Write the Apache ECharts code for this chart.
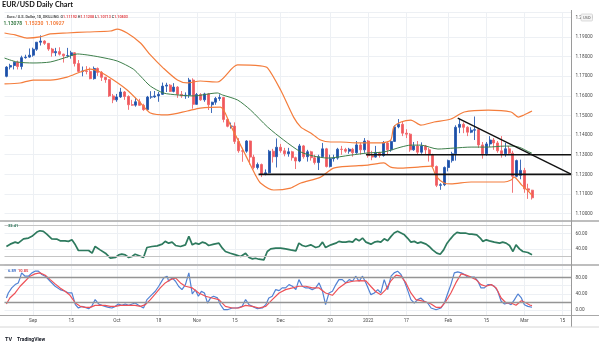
<!DOCTYPE html>
<html><head><meta charset="utf-8">
<script src="https://cdn.jsdelivr.net/npm/echarts@6/dist/echarts.min.js"></script>
<style>html,body{margin:0;padding:0;background:#fff}#c{width:599px;height:342px}</style>
</head><body><div id="c"></div>
<script>
// ---------- categories ----------
const dates = [
'2021-08-23','2021-08-24','2021-08-25','2021-08-26','2021-08-27','2021-08-30','2021-08-31',
'2021-09-01','2021-09-02','2021-09-03','2021-09-06','2021-09-07','2021-09-08','2021-09-09','2021-09-10','2021-09-13','2021-09-14','2021-09-15','2021-09-16','2021-09-17','2021-09-20','2021-09-21','2021-09-22','2021-09-23','2021-09-24','2021-09-27','2021-09-28','2021-09-29','2021-09-30',
'2021-10-01','2021-10-04','2021-10-05','2021-10-06','2021-10-07','2021-10-08','2021-10-11','2021-10-12','2021-10-13','2021-10-14','2021-10-15','2021-10-18','2021-10-19','2021-10-20','2021-10-21','2021-10-22','2021-10-25','2021-10-26','2021-10-27','2021-10-28','2021-10-29',
'2021-11-01','2021-11-02','2021-11-03','2021-11-04','2021-11-05','2021-11-08','2021-11-09','2021-11-10','2021-11-11','2021-11-12','2021-11-15','2021-11-16','2021-11-17','2021-11-18','2021-11-19','2021-11-22','2021-11-23','2021-11-24','2021-11-25','2021-11-26','2021-11-29','2021-11-30',
'2021-12-01','2021-12-02','2021-12-03','2021-12-06','2021-12-07','2021-12-08','2021-12-09','2021-12-10','2021-12-13','2021-12-14','2021-12-15','2021-12-16','2021-12-17','2021-12-20','2021-12-21','2021-12-22','2021-12-23','2021-12-24','2021-12-27','2021-12-28','2021-12-29','2021-12-30','2021-12-31',
'2022-01-03','2022-01-04','2022-01-05','2022-01-06','2022-01-07','2022-01-10','2022-01-11','2022-01-12','2022-01-13','2022-01-14','2022-01-17','2022-01-18','2022-01-19','2022-01-20','2022-01-21','2022-01-24','2022-01-25','2022-01-26','2022-01-27','2022-01-28','2022-01-31',
'2022-02-01','2022-02-02','2022-02-03','2022-02-04','2022-02-07','2022-02-08','2022-02-09','2022-02-10','2022-02-11','2022-02-14','2022-02-15','2022-02-16','2022-02-17','2022-02-18','2022-02-21','2022-02-22','2022-02-23','2022-02-24','2022-02-25','2022-02-28',
'2022-03-01','2022-03-02','2022-03-03','2022-03-04','2022-03-07','2022-03-08','2022-03-09','2022-03-10','2022-03-11','2022-03-14','2022-03-15','2022-03-16','2022-03-17'
];
const tickDates  = ['2021-09-01','2021-09-15','2021-10-01','2021-10-18','2021-11-01','2021-11-15','2021-12-01','2021-12-20','2022-01-03','2022-01-17','2022-02-01','2022-02-15','2022-03-01','2022-03-15'];
const tickLabels = ['Sep','15','Oct','18','Nov','15','Dec','20','2022','17','Feb','15','Mar','15'];

// ---------- OHLC ----------
const opens = [1.1700,1.1747,1.1755,1.1772,1.1750,1.1795,1.1798,1.1808,1.1838,1.1874,
1.1880,1.1868,1.1839,1.1820,1.1826,1.1813,1.1805,1.1806,1.1820,1.1765,
1.1725,1.1727,1.1725,1.1688,1.1740,1.1720,1.1695,1.1683,1.1600,1.1580,
1.1595,1.1620,1.1597,1.1555,1.1553,1.1570,1.1552,1.1530,1.1594,1.1595,
1.1600,1.1608,1.1650,1.1655,1.1623,1.1645,1.1608,1.1600,1.1604,1.1681,
1.1557,1.1607,1.1580,1.1610,1.1555,1.1568,1.1587,1.1592,1.1480,1.1445,
1.1446,1.1368,1.1320,1.1318,1.1370,1.1288,1.1235,1.1250,1.1200,1.1208,
1.1318,1.1290,1.1338,1.1320,1.1305,1.1315,1.1285,1.1268,1.1345,1.1290,
1.1315,1.1285,1.1260,1.1290,1.1330,1.1240,1.1280,1.1283,1.1328,1.1327,
1.1318,1.1328,1.1310,1.1350,1.1325,1.1370,1.1295,1.1288,1.1312,1.1296,
1.1360,1.1325,1.1368,1.1442,1.1455,1.1410,1.1405,1.1325,1.1345,1.1313,
1.1345,1.1325,1.1300,1.1240,1.1144,1.1147,1.1235,1.1270,1.1305,1.1440,
1.1455,1.1440,1.1415,1.1425,1.1428,1.1350,1.1305,1.1355,1.1375,1.1360,
1.1320,1.1305,1.1330,1.1308,1.1190,1.1195,1.1220,1.1126,1.11192];
const highs = [1.1752,1.1764,1.1775,1.1780,1.1805,1.1810,1.1842,1.1846,1.1875,1.1909,
1.1884,1.1870,1.1845,1.1845,1.1848,1.1815,1.1845,1.1830,1.1823,1.1783,
1.1750,1.1752,1.1745,1.1750,1.1745,1.1727,1.1697,1.1686,1.1610,1.1610,
1.1641,1.1625,1.1603,1.1580,1.1590,1.1585,1.1560,1.1600,1.1624,1.1625,
1.1620,1.1668,1.1667,1.1660,1.1665,1.1650,1.1625,1.1618,1.1692,1.1690,
1.1615,1.1614,1.1616,1.1615,1.1570,1.1595,1.1608,1.1595,1.1485,1.1464,
1.1465,1.1385,1.1335,1.1374,1.1372,1.1300,1.1260,1.1255,1.1225,1.1325,
1.1330,1.1383,1.1355,1.1335,1.1335,1.1320,1.1290,1.1355,1.1350,1.1325,
1.1320,1.1300,1.1300,1.1360,1.1335,1.1300,1.1300,1.1335,1.1345,1.1335,
1.1335,1.1335,1.1370,1.1360,1.1385,1.1375,1.1320,1.1345,1.1315,1.1370,
1.1365,1.1375,1.1450,1.1482,1.1470,1.1430,1.1410,1.1365,1.1370,1.1363,
1.1350,1.1335,1.1305,1.1245,1.1155,1.1240,1.1275,1.1315,1.1450,1.1483,
1.1465,1.1445,1.1440,1.1495,1.1435,1.1365,1.1365,1.1395,1.1385,1.1370,
1.1395,1.1360,1.1345,1.1320,1.1275,1.1275,1.1233,1.1152,1.11208];
const lows = [1.1695,1.1735,1.1735,1.1735,1.1735,1.1790,1.1795,1.1800,1.1830,1.1857,
1.1860,1.1830,1.1800,1.1803,1.1806,1.1770,1.1796,1.1790,1.1750,1.1720,
1.1700,1.1710,1.1685,1.1683,1.1702,1.1676,1.1667,1.1595,1.1563,1.1570,
1.1590,1.1580,1.1529,1.1550,1.1545,1.1550,1.1524,1.1525,1.1585,1.1590,
1.1570,1.1605,1.1620,1.1620,1.1618,1.1590,1.1590,1.1585,1.1590,1.1535,
1.1555,1.1575,1.1570,1.1528,1.1513,1.1555,1.1575,1.1465,1.1440,1.1433,
1.1355,1.1310,1.1264,1.1310,1.1250,1.1226,1.1225,1.1186,1.1195,1.1205,
1.1260,1.1235,1.1310,1.1292,1.1290,1.1270,1.1227,1.1262,1.1280,1.1265,
1.1270,1.1250,1.1222,1.1285,1.1235,1.1235,1.1265,1.1275,1.1300,1.1310,
1.1305,1.1290,1.1305,1.1300,1.1310,1.1285,1.1272,1.1285,1.1285,1.1290,
1.1300,1.1315,1.1365,1.1435,1.1395,1.1385,1.1315,1.1320,1.1300,1.1305,
1.1300,1.1265,1.1235,1.1135,1.1121,1.1140,1.1215,1.1260,1.1270,1.1410,
1.1410,1.1395,1.1410,1.1375,1.1335,1.1280,1.1295,1.1340,1.1325,1.1310,
1.1285,1.1290,1.1300,1.1106,1.1185,1.1175,1.1106,1.1075,1.10713];
const closes = [1.1747,1.1755,1.1772,1.1750,1.1795,1.1798,1.1808,1.1838,1.1874,1.1880,
1.1868,1.1839,1.1820,1.1826,1.1813,1.1805,1.1806,1.1820,1.1765,1.1725,
1.1727,1.1725,1.1688,1.1740,1.1720,1.1695,1.1683,1.1600,1.1580,1.1595,
1.1620,1.1597,1.1555,1.1553,1.1570,1.1552,1.1530,1.1594,1.1595,1.1600,
1.1608,1.1650,1.1655,1.1623,1.1645,1.1608,1.1600,1.1604,1.1681,1.1557,
1.1607,1.1580,1.1610,1.1555,1.1568,1.1587,1.1592,1.1480,1.1445,1.1446,
1.1368,1.1320,1.1318,1.1370,1.1288,1.1235,1.1250,1.1200,1.1208,1.1318,
1.1290,1.1338,1.1320,1.1305,1.1315,1.1285,1.1268,1.1345,1.1290,1.1315,
1.1285,1.1260,1.1290,1.1330,1.1240,1.1280,1.1283,1.1328,1.1327,1.1318,
1.1328,1.1310,1.1350,1.1325,1.1370,1.1295,1.1288,1.1312,1.1296,1.1360,
1.1325,1.1368,1.1442,1.1455,1.1410,1.1405,1.1325,1.1345,1.1313,1.1345,
1.1325,1.1300,1.1240,1.1144,1.1147,1.1235,1.1270,1.1305,1.1440,1.1455,
1.1440,1.1415,1.1425,1.1428,1.1350,1.1305,1.1355,1.1375,1.1360,1.1320,
1.1305,1.1330,1.1308,1.1190,1.1270,1.1220,1.1126,1.11192,1.10803];

// ---------- Bollinger bands [bar position, price] ----------
const bbUpper = [[-0.5,1.1921],[2.3,1.1911],[5.4,1.1895],[8.8,1.1901],[11.5,1.1916],[15.9,1.1921],[21.2,1.1926],[27.3,1.1931],[29.1,1.1941],[31.7,1.1921],[35.2,1.1870],[37.8,1.1809],[41.2,1.1742],[44.9,1.1681],[47.5,1.1666],[50.9,1.1676],[55.4,1.1671],[60.7,1.1758],[66.7,1.1753],[68.6,1.1742],[72.0,1.1630],[75.4,1.1492],[77.3,1.1441],[79.9,1.1411],[82.5,1.1375],[85.1,1.1365],[87.8,1.1365],[92.3,1.1360],[94.9,1.1360],[98.3,1.1360],[100.9,1.1375],[101.7,1.1441],[103.6,1.1467],[106.2,1.1477],[108.8,1.1451],[112.3,1.1467],[116.7,1.1482],[120.2,1.1518],[126.5,1.1528],[132.5,1.1518],[134.4,1.1492],[135.9,1.1503],[138,1.15230]];
const bbLower = [[-0.5,1.1661],[3.6,1.1666],[7.0,1.1681],[11.5,1.1681],[15.9,1.1696],[19.4,1.1722],[22.0,1.1737],[24.6,1.1722],[28.1,1.1681],[31.7,1.1630],[35.2,1.1564],[37.8,1.1513],[42.3,1.1503],[47.5,1.1523],[50.9,1.1538],[56.2,1.1543],[58.8,1.1451],[62.8,1.1298],[65.4,1.1196],[66.7,1.1156],[70.2,1.1120],[74.6,1.1130],[77.3,1.1156],[82.5,1.1186],[85.9,1.1232],[90.4,1.1242],[94.9,1.1247],[99.1,1.1258],[100.9,1.1237],[103.6,1.1232],[108.1,1.1237],[111.5,1.1242],[112.8,1.1191],[114.9,1.1156],[116.7,1.1151],[122.0,1.1161],[130.7,1.1161],[132.5,1.1171],[133.3,1.1186],[135.3,1.1145],[137.0,1.1115],[138,1.10927]];
const bbBasis = [[-0.5,1.1793],[2.8,1.1773],[7.0,1.1768],[11.5,1.1773],[15.9,1.1798],[18.6,1.1814],[21.2,1.1809],[24.6,1.1798],[29.1,1.1778],[33.3,1.1737],[35.2,1.1701],[37.8,1.1650],[41.2,1.1615],[44.9,1.1605],[49.1,1.1600],[55.4,1.1615],[56.7,1.1605],[60.7,1.1579],[64.1,1.1528],[68.6,1.1441],[72.8,1.1375],[77.3,1.1314],[80.7,1.1293],[84.4,1.1283],[90.4,1.1298],[94.9,1.1309],[99.1,1.1314],[103.6,1.1339],[106.2,1.1349],[108.8,1.1349],[113.3,1.1329],[117.5,1.1334],[122.0,1.1339],[126.5,1.1339],[130.7,1.1344],[133.3,1.1344],[135.2,1.1334],[136.7,1.1319],[138,1.13078]];

// ---------- drawn levels ----------
const levelUpper = [[94.4,1.1300],[148.5,1.1300]];
const levelLower = [[66.2,1.1200],[148.5,1.1200]];
const trendLine  = [[118.5,1.1487],[148.5,1.1199]];

// ---------- RSI ----------
const rsi = [[0,43.0],[1.0,46.0],[2.3,48.6],[3.1,47.3],[4.5,52.9],[5.8,53.9],[6.7,56.1],[8.0,61.7],[8.8,63.4],[9.7,62.6],[10.6,59.1],[11.9,52.9],[13.2,52.6],[14.1,50.3],[15.4,50.3],[16.3,49.6],[17.2,51.6],[18.1,45.1],[18.9,37.8],[20.2,37.8],[21.6,37.8],[22.5,34.3],[23.3,43.0],[24.6,38.6],[26.0,34.3],[27.3,27.8],[28.6,28.7],[29.5,32.1],[30.3,33.0],[31.2,32.1],[32.1,28.7],[33.0,30.0],[33.8,33.0],[34.7,31.3],[36.0,28.7],[36.9,41.7],[38.2,43.0],[39.6,43.8],[40.9,46.0],[41.7,49.6],[42.6,47.3],[43.5,48.6],[44.4,44.3],[45.7,43.0],[47.0,45.1],[47.9,56.1],[48.8,45.1],[49.6,47.3],[50.5,46.0],[51.4,48.6],[52.3,47.3],[53.1,44.3],[54.5,46.0],[55.8,47.3],[56.7,40.8],[57.5,36.5],[58.8,34.3],[60.2,32.1],[61.5,30.0],[62.8,34.3],[63.7,28.7],[64.6,26.9],[65.4,27.8],[66.3,26.5],[67.6,25.6],[68.5,36.5],[69.4,39.9],[70.7,40.8],[72.0,40.8],[73.3,39.9],[74.6,38.6],[76.0,37.3],[76.8,47.3],[77.7,44.3],[78.6,43.0],[79.9,45.1],[81.2,41.7],[82.1,43.0],[83.0,48.6],[83.8,41.7],[85.2,45.1],[86.5,47.3],[87.3,49.6],[88.2,48.6],[89.1,48.6],[90.0,49.6],[90.9,48.6],[91.7,52.9],[92.6,50.3],[93.5,53.9],[94.4,48.6],[95.7,46.0],[96.6,48.6],[97.5,49.6],[98.3,48.6],[99.2,52.9],[100.1,50.3],[101.0,56.1],[101.8,60.4],[102.7,62.6],[103.6,60.4],[104.5,58.1],[105.3,53.9],[106.2,48.6],[107.1,49.6],[108.0,47.3],[108.8,48.6],[110.2,46.0],[111.0,43.0],[111.9,38.6],[113.0,34.3],[113.9,33.0],[114.8,38.6],[115.7,47.3],[116.6,52.9],[117.5,58.1],[118.3,61.3],[119.2,60.4],[120.5,60.4],[121.4,59.1],[122.2,59.1],[123.5,58.1],[124.4,53.9],[125.1,49.6],[126.0,51.6],[126.8,50.3],[128.1,48.6],[129.5,47.3],[130.3,48.6],[131.2,47.3],[132.1,44.3],[133.0,36.5],[133.8,45.1],[134.7,39.9],[135.6,36.5],[136.9,35.2],[138,32.41]];

// ---------- Stochastic ----------
const stochK = [[0,29.7],[0.5,42],[1.4,54.5],[2.3,62.7],[3.1,66.8],[3.6,79.2],[4.0,91.6],[4.9,83.4],[5.8,83.4],[6.7,91.6],[7.5,95.8],[8.4,95.8],[9.3,87.5],[10.2,83.4],[11.5,71],[12.8,58.6],[14.1,50.3],[15.4,46.2],[16.3,42.1],[17.2,42.1],[18.1,13.2],[18.9,5],[19.8,9.1],[20.7,6.6],[21.6,3.3],[22.4,9.1],[23.3,25.6],[24.2,14.9],[25.1,11.6],[25.9,9.1],[26.8,6.6],[27.7,5],[28.6,9.1],[29.4,14.9],[30.3,11.6],[31.2,14.9],[32.1,11.6],[33.0,14.9],[33.8,17.3],[34.7,11.6],[36.0,5],[36.9,25.6],[38.2,37.9],[39.1,46.2],[40.0,58.6],[41.3,79.2],[42.2,83.4],[42.6,71],[43.5,79.2],[44.4,71],[45.2,58.6],[46.1,50.3],[47.0,62.7],[47.9,91.6],[48.8,40],[49.6,50],[50.4,34],[51.2,46],[52.0,42],[52.8,17],[53.6,30],[54.4,34],[55.4,30],[56.2,13],[57.1,0.8],[58.0,0.8],[59.3,5],[60.6,5],[61.9,9.1],[62.8,25.6],[63.7,13.2],[64.6,9.1],[65.9,3.3],[67.2,5],[68.1,13.2],[68.9,29.7],[69.8,33.9],[70.7,50.3],[71.6,47.8],[72.4,54.5],[73.3,54.5],[74.2,62.7],[75.1,58.6],[76.0,50.3],[76.8,75],[77.7,58.6],[78.6,54.5],[79.4,54.5],[80.3,50.3],[81.2,54.5],[82.1,66.8],[83.0,46.2],[83.8,13.2],[84.7,42.1],[85.6,46.2],[86.5,62.7],[87.3,75],[88.2,75],[89.1,66.8],[90.0,75],[90.9,71],[91.7,83.4],[92.6,71],[93.5,83.4],[94.4,66.8],[95.7,37.9],[96.6,42.1],[97.5,50.3],[98.3,42.1],[99.2,75],[100.1,50.3],[101.0,83.4],[101.8,91.6],[102.7,95.8],[103.6,87.5],[104.5,71],[105.3,50.3],[106.2,25.6],[107.1,17.3],[108.0,25.6],[108.8,29.7],[109.7,21.5],[110.6,17.3],[111.5,5],[112.8,0.8],[114.1,5],[115.0,17.3],[115.9,42.1],[116.7,62.7],[117.6,91.6],[118.5,94],[119.4,91.6],[120.3,87.5],[121.1,81],[122.0,81],[122.9,81],[123.8,71],[124.6,54.5],[125.5,54.5],[126.4,62.7],[127.2,62.7],[128.1,58.6],[129.0,46.2],[129.9,21.5],[130.8,14.9],[131.7,17.3],[132.5,13.2],[133.4,25.6],[134.3,39.6],[135.2,29.7],[136.0,13.2],[136.9,9.1],[137.4,11.6],[138,6.89]];
const stochD = [[0,14.9],[0.9,29.7],[2.3,42.1],[3.6,58.6],[4.9,71],[6.2,83.4],[7.5,89.1],[8.8,91.6],[10.2,85.9],[11.5,75],[12.8,64.4],[14.1,54.5],[15.4,46.2],[16.7,36.3],[18.1,17.3],[19.4,9.1],[20.7,6.6],[22.0,6.6],[23.3,11.6],[24.6,11.6],[25.9,11.6],[27.3,9.1],[28.6,9.1],[29.9,11.6],[31.2,11.6],[32.5,11.6],[33.8,11.6],[35.2,9.1],[36.5,13.2],[37.8,25.6],[39.1,39.6],[40.4,54.5],[41.7,66.8],[43.1,75],[44.4,79.2],[45.7,66.8],[47.0,58.6],[48.8,54.5],[50.5,42.1],[52.3,33.9],[54.0,29.7],[55.8,25.6],[57.5,9.1],[59.3,5],[61.0,5],[62.8,11.6],[64.6,9.1],[66.3,5],[68.1,9.1],[69.8,25.6],[71.6,42.1],[73.3,50.3],[75.1,54.5],[76.8,58.6],[78.6,58.6],[80.3,54.5],[82.1,54.5],[83.8,42.1],[85.6,36.3],[87.3,54.5],[89.1,66.8],[90.9,71],[92.6,72.5],[94.4,72],[95.7,58],[97.0,45],[98.3,37.9],[99.6,50.3],[100.9,71],[102.3,85.9],[103.6,83.4],[104.9,66.8],[106.2,42.1],[107.5,25.6],[108.8,23],[110.2,19.8],[111.5,14.9],[112.8,6.6],[114.1,6.6],[115.4,21.5],[116.7,42.1],[118.0,66.8],[119.4,89.1],[120.7,85.9],[122.0,81],[123.3,75],[124.6,62.7],[125.9,58.6],[127.3,62.7],[128.6,54.5],[129.9,29.7],[131.2,17.3],[132.5,17.3],[133.8,11.6],[135.2,23],[136.5,17.3],[137.4,12.5],[138,10.85]];

// ---------- chart ----------
const FONT = 'Roboto';
const last = opens.length - 1;
const f5 = v => v.toFixed(5);
const isTick = (i, v) => tickDates.indexOf(v) >= 0;

const catAxis = (gi, showLabel) => ({
  type: 'category', gridIndex: gi, data: dates, boundaryGap: true,
  axisLine: {show: false}, axisTick: {show: false},
  axisLabel: {show: showLabel, interval: isTick, formatter: v => tickLabels[tickDates.indexOf(v)] || '',
              fontSize: 4.7, color: '#4a4a4a', fontFamily: FONT, margin: 3.5},
  splitLine: {show: true, interval: isTick, alignWithLabel: true, lineStyle: {color: '#edf0f4', width: 1}}
});
const posAxis = gi => ({type: 'value', gridIndex: gi, min: -0.5, max: 148.5, show: false});
const lbl = {fontSize: 4.7, color: '#4a4a4a', fontFamily: FONT, margin: 3.5, showMinLabel: false, showMaxLabel: false};

const legend1 = '{g|Euro / U.S. Dollar, 1D, SKILLING  }{g|O}{r|' + f5(opens[last]) + '} {g|H}{r|' + f5(highs[last]) +
  '} {g|L}{r|' + f5(lows[last]) + '} {g|C}{r|' + f5(closes[last]) + '}';
const legend2 = '{gr|' + f5(bbBasis[bbBasis.length-1][1]) + '}  {or|' + f5(bbUpper[bbUpper.length-1][1]) + '}  {or|' + f5(bbLower[bbLower.length-1][1]) + '}';

const option = {
  animation: false,
  backgroundColor: '#ffffff',
  title: [
    {text: 'EUR/USD Daily Chart', left: 2, top: 1.5, padding: 0,
     textStyle: {fontFamily: 'Lato', fontWeight: 'bold', fontSize: 7.3, color: '#111'}},
    {text: legend1, left: 7, top: 14.8, padding: 0,
     textStyle: {fontSize: 3.7, fontFamily: FONT, rich: {
       g: {fontSize: 3.7, color: '#555', fontFamily: FONT},
       r: {fontSize: 3.7, color: '#e5484d', fontFamily: FONT}}}},
    {text: legend2, left: 3.5, top: 21.3, padding: 0,
     textStyle: {fontSize: 5, fontFamily: FONT, rich: {
       gr: {fontSize: 5, color: '#3e7f4b', fontFamily: FONT},
       or: {fontSize: 5, color: '#f47d3c', fontFamily: FONT}}}},
    {text: rsi[rsi.length-1][1].toFixed(2), left: 8, top: 224, padding: 0,
     textStyle: {fontSize: 4, color: '#2e7a5e', fontFamily: FONT}},
    {text: '{b|' + stochK[stochK.length-1][1].toFixed(2) + '}  {r|' + stochD[stochD.length-1][1].toFixed(2) + '}',
     left: 8, top: 268.5, padding: 0,
     textStyle: {fontSize: 4, fontFamily: FONT, rich: {
       b: {fontSize: 4, color: '#3f6fc8', fontFamily: FONT, fontWeight: 'bold'},
       r: {fontSize: 4, color: '#e5484d', fontFamily: FONT}}}},
    {text: '{t|TV} {n|TradingView}', left: 5, top: 331, padding: 0,
     textStyle: {rich: {
       t: {fontSize: 5.5, fontWeight: 'bold', color: '#131722', fontFamily: FONT},
       n: {fontSize: 5, color: '#131722', fontFamily: FONT}}}}
  ],
  grid: [
    {left: 4.5, right: 27, top: 12, height: 209},
    {left: 4.5, right: 27, top: 221, height: 44},
    {left: 4.5, right: 27, top: 265, height: 50.3}
  ],
  xAxis: [catAxis(0, false), posAxis(0), catAxis(1, false), posAxis(1), catAxis(2, true), posAxis(2)],
  yAxis: [
    {type: 'value', gridIndex: 0, position: 'right', min: 1.0962, max: 1.2028, splitNumber: 10,
     axisLine: {show: false}, axisTick: {show: false},
     axisLabel: Object.assign({}, lbl, {formatter: v => v.toFixed(5)}),
     splitLine: {lineStyle: {color: '#edf0f4'}}},
    {type: 'value', gridIndex: 1, position: 'right', min: 19, max: 76, splitNumber: 3,
     axisLine: {show: false}, axisTick: {show: false},
     axisLabel: Object.assign({}, lbl, {formatter: v => (Math.abs(v-40)<1e-6 || Math.abs(v-60)<1e-6) ? v.toFixed(2) : ''}),
     splitLine: {lineStyle: {color: '#edf0f4'}}},
    {type: 'value', gridIndex: 2, position: 'right', min: -13, max: 111, splitNumber: 6,
     axisLine: {show: false}, axisTick: {show: false},
     axisLabel: Object.assign({}, lbl, {formatter: v => ([0,40,80].some(t => Math.abs(v-t)<1e-6)) ? v.toFixed(2) : ''}),
     splitLine: {lineStyle: {color: '#edf0f4'}}}
  ],
  series: [
    {type: 'candlestick', xAxisIndex: 0, yAxisIndex: 0, barWidth: 2.5,
     data: opens.map((o, i) => [o, closes[i], lows[i], highs[i]]),
     itemStyle: {color: '#1d4fa3', color0: '#f0585c', borderColor: '#2a5cb2', borderColor0: '#f0676b', borderWidth: 0.9},
     markLine: {silent: true, symbol: 'none', animation: false,
       lineStyle: {opacity: 0},
       label: {show: true, position: 'end', distance: 1.5, formatter: () => f5(closes[last]),
               backgroundColor: '#f0444c', color: '#fff', fontSize: 4.7, fontFamily: FONT, padding: [1.6, 3, 1.2, 3]},
       data: [{yAxis: closes[last]}]}},
    {type: 'line', xAxisIndex: 1, yAxisIndex: 0, data: bbUpper, smooth: 0.25, showSymbol: false, silent: true,
     lineStyle: {color: '#f47d3c', width: 1.2}},
    {type: 'line', xAxisIndex: 1, yAxisIndex: 0, data: bbLower, smooth: 0.25, showSymbol: false, silent: true,
     lineStyle: {color: '#f47d3c', width: 1.2}},
    {type: 'line', xAxisIndex: 1, yAxisIndex: 0, data: bbBasis, smooth: 0.25, showSymbol: false, silent: true,
     lineStyle: {color: '#3e7f4b', width: 1}},
    {type: 'line', xAxisIndex: 1, yAxisIndex: 0, data: levelUpper, showSymbol: false, silent: true, z: 5,
     lineStyle: {color: '#111', width: 1.6}},
    {type: 'line', xAxisIndex: 1, yAxisIndex: 0, data: levelLower, showSymbol: false, silent: true, z: 5,
     lineStyle: {color: '#111', width: 1.6}},
    {type: 'line', xAxisIndex: 1, yAxisIndex: 0, data: trendLine, showSymbol: false, silent: true, z: 5,
     lineStyle: {color: '#111', width: 1.4}},
    {type: 'line', xAxisIndex: 3, yAxisIndex: 1, data: rsi, showSymbol: false, silent: true,
     lineStyle: {color: '#2e7a5e', width: 1.7},
     markLine: {silent: true, symbol: 'none', label: {show: false},
       lineStyle: {color: '#c4c4c4', width: 1, type: 'solid'}, data: [{yAxis: 70}, {yAxis: 30}]}},
    {type: 'line', xAxisIndex: 5, yAxisIndex: 2, data: stochK, showSymbol: false, silent: true,
     lineStyle: {color: '#5182d4', width: 1.2},
     markLine: {silent: true, symbol: 'none', label: {show: false},
       lineStyle: {color: '#959595', width: 1.3, type: 'solid'}, data: [{yAxis: 80}, {yAxis: 20}]}},
    {type: 'line', xAxisIndex: 5, yAxisIndex: 2, data: stochD, showSymbol: false, silent: true,
     lineStyle: {color: '#ee5157', width: 1.2}}
  ],
  graphic: [
    {type: 'line', z: 50, silent: true, shape: {x1: 0, y1: 221, x2: 599, y2: 221}, style: {stroke: '#a8a8a8', lineWidth: 1.5}},
    {type: 'line', z: 50, silent: true, shape: {x1: 0, y1: 265, x2: 599, y2: 265}, style: {stroke: '#a8a8a8', lineWidth: 1.5}},
    {type: 'line', z: 50, silent: true, shape: {x1: 0, y1: 315.5, x2: 599, y2: 315.5}, style: {stroke: '#a8a8a8', lineWidth: 1.2}},
    {type: 'line', z: 50, silent: true, shape: {x1: 571.5, y1: 10, x2: 571.5, y2: 327}, style: {stroke: '#9a9a9a', lineWidth: 1}},
    {type: 'line', z: 50, silent: true, shape: {x1: 0, y1: 327, x2: 599, y2: 327}, style: {stroke: '#d6d6d6', lineWidth: 1}},
    {type: 'rect', z: 60, silent: true, shape: {x: 581, y: 14, width: 11.5, height: 7, r: 1},
     style: {fill: '#f4f4f4', stroke: '#c8c8c8', lineWidth: 0.6}},
    {type: 'text', z: 61, silent: true, x: 586.75, y: 17.6,
     style: {text: 'USD', fill: '#555', font: '4px Roboto', textAlign: 'center', textVerticalAlign: 'middle'}}
  ]
};

const chart = echarts.init(document.getElementById('c'), null, {renderer: 'canvas'});
chart.setOption(option);
</script>
</body></html>
